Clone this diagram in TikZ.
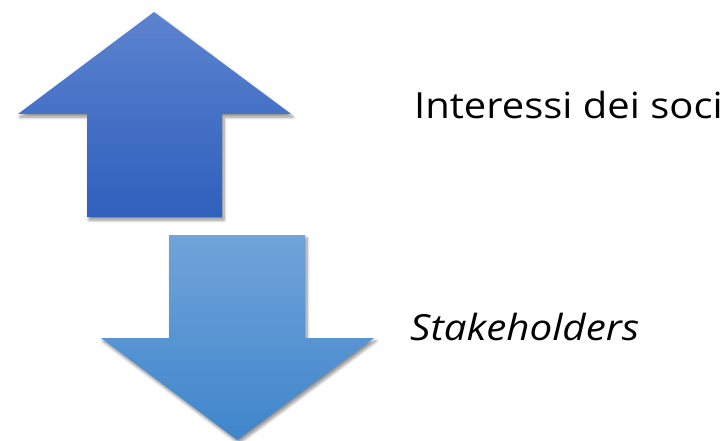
\documentclass[tikz,border=0pt]{standalone}
\usepackage{fontspec}
\setmainfont{Open Sans}
\usetikzlibrary{shadows.blur}
\begin{document}
\begin{tikzpicture}[x=1pt,y=-1pt,
  bigarrow/.style={blur shadow={shadow xshift=2pt,shadow yshift=-3pt,shadow blur steps=6,shadow blur radius=3pt,shadow opacity=45}},
  label/.style={anchor=base west,inner sep=0pt,font=\fontsize{36}{40}\selectfont}]
\useasboundingbox (0,0) rectangle (725,441);
\definecolor{upTop}{HTML}{5C83CF}
\definecolor{upBot}{HTML}{2E60BD}
\definecolor{dnTop}{HTML}{70A4DA}
\definecolor{dnBot}{HTML}{3F85CB}
% upward arrow
\path[bigarrow,top color=upTop,bottom color=upBot]
  (154,12) -- (291,114) -- (222,114) -- (222,217) -- (87,217) -- (87,114) -- (18,114) -- cycle;
% downward arrow
\path[bigarrow,top color=dnTop,bottom color=dnBot]
  (169,235) -- (305,235) -- (305,338) -- (374,338) -- (237,440) -- (101,338) -- (169,338) -- cycle;
\node[label] (soci) at (414,118) {\scalebox{1.11}[1]{Interessi dei soci}};
\node[label] (stake) at (410,340) {\scalebox{1.12}[1]{\itshape Stakeholders}};
\end{tikzpicture}
\end{document}
